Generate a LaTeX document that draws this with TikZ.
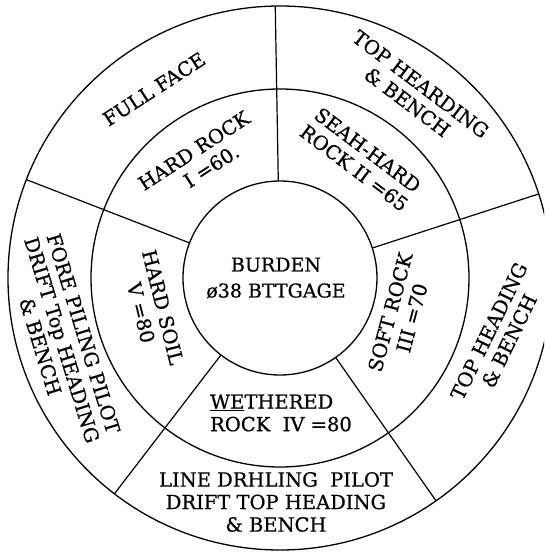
\documentclass[tikz,border=0pt]{standalone}
\usepackage{fontspec}
\setmainfont{DejaVu Serif}[FakeBold=0.6]
\begin{document}
\begin{tikzpicture}[x=1pt,y=1pt,
  ring/.style={line width=1.3pt},
  spoke/.style={line width=1.2pt},
  lbl/.style={font=\fontsize{19.5}{22.5}\selectfont, align=center, inner sep=0pt}]
\clip (-280,-279) rectangle (264,278);
\fill[white] (-280,-279) rectangle (264,278);
% circles
\draw[ring] (0,0) circle (97);
\draw[ring] (0,0) circle (189);
\draw[ring] (0,0) circle (272);
% spokes
\foreach \a in {158.8,91,18,-55,232.5}
  \draw[spoke] (\a:97) -- (\a:272);
% labels
\node[lbl, font=\fontsize{19}{26}\selectfont] (burden) at (-4,0) {BURDEN\\ø38 BTTGAGE};
\node[lbl, rotate=33] (fullface) at (-126,189) {FULL FACE};
\node[lbl, rotate=33] (hardrock) at (-80,118) {HARD ROCK\\\ \ I =60.};
\node[lbl, rotate=-37] (topheard) at (134,185) {TOP HEARDING\\\& BENCH};
\node[lbl, rotate=-37] (seah) at (81,119) {SEAH-HARD\\ROCK II =65};
\node[lbl, rotate=75] (soft) at (121,-37) {SOFT ROCK\\III =70};
\node[lbl, rotate=64] (tophead) at (219,-58) {TOP HEADING\\\& BENCH};
\node[lbl] (line) at (-4,-224) {LINE DRHLING\ \ PILOT\\DRIFT TOP HEADING\\\& BENCH};
\node[lbl, align=left] (wethered) at (1,-135) {\underline{WE}THERED\\ROCK\ \ IV =80};
\node[lbl, rotate=-76] (hardsoil) at (-128,-32) {HARD SOIL\\V =80};
\node[lbl, rotate=-73] (fore) at (-218,-62) {FORE PILING PILOT\\DRIFT Top HEADING\\\& BENCH};
\end{tikzpicture}
\end{document}
